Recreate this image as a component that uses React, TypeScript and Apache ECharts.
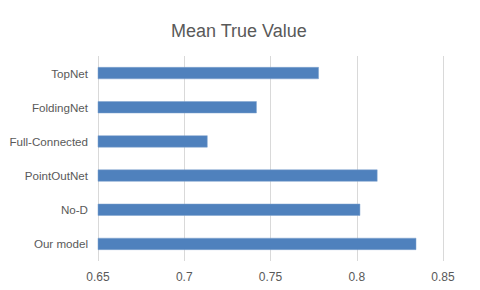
import React, { useEffect, useRef } from "react";
import * as echarts from "echarts";

const categories = ["Our model", "No-D", "PointOutNet", "Full-Connected", "FoldingNet", "TopNet"];
const values = [0.8345, 0.802, 0.812, 0.7135, 0.742, 0.778];
const xTicks = [0.65, 0.7, 0.75, 0.8, 0.85];

export default function App() {
  const ref = useRef<HTMLDivElement>(null);
  useEffect(() => {
    if (!ref.current) return;
    const chart = echarts.init(ref.current, null, { renderer: "svg" });
    chart.setOption({
      animation: false,
      backgroundColor: "#ffffff",
      title: {
        text: "Mean True Value",
        left: 166,
        top: 17,
        textStyle: { fontFamily: "Liberation Sans, Arial", fontSize: 18, fontWeight: "normal", color: "#595959" },
      },
      grid: { left: 98, right: 37, top: 56, bottom: 29, containLabel: false },
      xAxis: {
        type: "value",
        min: xTicks[0],
        max: xTicks[xTicks.length - 1],
        interval: 0.05,
        axisLine: { show: false },
        axisTick: { show: false },
        splitLine: { lineStyle: { color: "#d9d9d9", width: 1 } },
        axisLabel: {
          fontFamily: "Liberation Sans, Arial",
          fontSize: 12,
          color: "#595959",
          margin: 10,
          formatter: (v: number) => String(parseFloat(v.toFixed(2))),
        },
      },
      yAxis: {
        type: "category",
        data: categories,
        axisLine: { show: false },
        axisTick: { show: false },
        axisLabel: { fontFamily: "Liberation Sans, Arial", fontSize: 11.6, color: "#595959", margin: 10 },
      },
      series: [
        {
          type: "bar",
          data: values,
          barWidth: 12,
          itemStyle: { color: "#4F81BD", borderColor: "#7fa3cf", borderWidth: 0.5 },
        },
      ],
    });
    return () => chart.dispose();
  }, []);
  return <div ref={ref} style={{ position: "fixed", left: 0, top: 0, width: 480, height: 290 }} />;
}
